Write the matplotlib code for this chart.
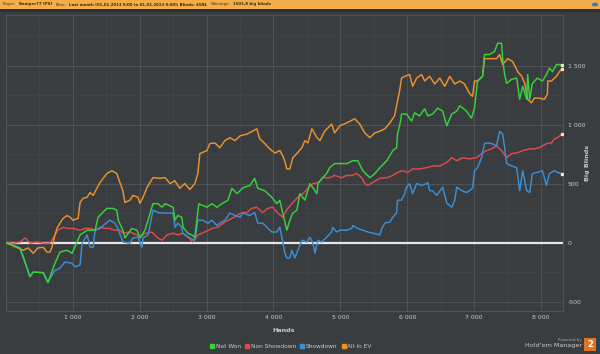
import numpy as np
import matplotlib.pyplot as plt
from matplotlib.patches import Rectangle, Circle
from matplotlib.lines import Line2D

# hands played / big blinds
net_won_x = [0, 210, 260, 360, 410, 560, 630, 735, 810, 915, 990, 1110, 1215, 1335, 1380, 1510, 1600, 1660,
             1680, 1750, 1780, 1885, 1960, 2005, 2080, 2200, 2275, 2335, 2380, 2500, 2530, 2570, 2630, 2650,
             2720, 2780, 2825, 2885, 3005, 3080, 3155, 3230, 3320, 3380, 3455, 3545, 3650, 3720, 3765, 3870,
             3975, 4050, 4095, 4140, 4200, 4245, 4290, 4350, 4395, 4470, 4545, 4590, 4650, 4665, 4735, 4795,
             4840, 4915, 4990, 5095, 5185, 5260, 5335, 5440, 5515, 5590, 5695, 5785, 5840, 5855, 5900, 5915,
             5990, 6065, 6110, 6185, 6260, 6305, 6380, 6455, 6530, 6590, 6665, 6740, 6785, 6885, 6960, 7005,
             7050, 7125, 7155, 7230, 7305, 7350, 7410, 7425, 7455, 7485, 7560, 7635, 7680, 7725, 7785, 7800,
             7830, 7870, 7945, 8020, 8080, 8125, 8170, 8230, 8275, 8310]
net_won_y = [0, -45, -120, -290, -250, -255, -340, -175, -80, -65, -90, 65, 105, 105, 215, 290, 290, 275,
             190, 105, 40, 120, 105, 40, 105, 330, 330, 300, 330, 300, 190, 230, 215, 130,
             80, 65, 45, 330, 300, 330, 300, 330, 360, 460, 415, 465, 485, 545, 460, 440,
             385, 330, 358, 248, 105, 190, 250, 275, 415, 360, 500, 465, 415, 500, 550, 585,
             635, 670, 670, 670, 695, 695, 610, 550, 585, 635, 695, 780, 805, 920, 1030, 1090,
             1090, 1030, 1100, 1075, 1135, 1075, 1090, 1140, 1115, 990, 1090, 1115, 1160, 1115, 1055, 1140,
             1370, 1410, 1595, 1595, 1620, 1690, 1690, 1560, 1425, 1350, 1385, 1395, 1215, 1325, 1215, 1425,
             1215, 1350, 1395, 1370, 1425, 1480, 1450, 1510, 1510, 1504]

non_sd_x = [0, 110, 215, 290, 365, 465, 555, 660, 735, 780, 855, 930, 1005, 1110, 1185, 1260, 1335, 1410,
            1485, 1555, 1630, 1705, 1750, 1855, 1960, 2005, 2080, 2110, 2185, 2260, 2335, 2410, 2500, 2570,
            2645, 2720, 2795, 2870, 2975, 3080, 3170, 3275, 3380, 3455, 3530, 3605, 3675, 3750, 3840, 3915,
            3990, 4065, 4140, 4170, 4215, 4290, 4365, 4440, 4515, 4590, 4665, 4735, 4840, 4915, 5020, 5095,
            5170, 5245, 5320, 5365, 5410, 5485, 5590, 5695, 5785, 5855, 5930, 6005, 6080, 6185, 6290, 6380,
            6485, 6590, 6665, 6740, 6830, 6930, 7035, 7110, 7185, 7260, 7335, 7410, 7485, 7560, 7635, 7725,
            7830, 7900, 7975, 8080, 8155, 8200, 8245, 8310]
non_sd_y = [0, -5, 5, 40, -5, 5, -5, -5, 65, 105, 130, 120, 120, 105, 120, 120, 105, 130,
            120, 120, 105, 105, 80, 90, 65, 45, 80, 80, 90, 45, 20, 65, 80, 65,
            80, 45, 5, 65, 90, 120, 130, 175, 205, 230, 255, 255, 290, 300, 255, 290,
            300, 250, 215, 250, 290, 340, 385, 415, 460, 500, 510, 550, 550, 570, 550, 570,
            570, 585, 550, 500, 485, 510, 545, 550, 570, 595, 610, 595, 625, 625, 635, 650,
            650, 680, 720, 695, 720, 710, 720, 755, 780, 795, 820, 780, 720, 755, 760, 780,
            795, 795, 805, 840, 845, 880, 890, 920]

sd_x = [0, 210, 260, 360, 410, 560, 630, 735, 765, 810, 885, 990, 1035, 1110, 1140, 1215, 1260, 1305,
        1335, 1410, 1455, 1555, 1630, 1675, 1750, 1855, 1900, 1975, 2035, 2050, 2125, 2155, 2200, 2275,
        2350, 2425, 2500, 2530, 2570, 2630, 2645, 2750, 2825, 2870, 2945, 3020, 3080, 3155, 3200, 3275,
        3350, 3425, 3500, 3545, 3645, 3720, 3765, 3840, 3900, 3975, 4050, 4095, 4140, 4170, 4200, 4245,
        4275, 4320, 4365, 4425, 4500, 4545, 4590, 4620, 4665, 4720, 4795, 4870, 4885, 4945, 4990, 5095,
        5170, 5185, 5260, 5335, 5410, 5485, 5590, 5620, 5665, 5740, 5785, 5840, 5855, 5915, 5960, 5990,
        6035, 6080, 6140, 6215, 6290, 6305, 6335, 6380, 6440, 6530, 6590, 6665, 6710, 6740, 6815, 6885,
        6930, 6975, 7005, 7050, 7110, 7155, 7200, 7260, 7335, 7380, 7425, 7455, 7485, 7560, 7635, 7680,
        7725, 7785, 7830, 7870, 7945, 8020, 8080, 8125, 8200, 8245, 8310]
sd_y = [0, -45, -125, -285, -250, -255, -335, -235, -230, -215, -165, -175, -205, -190, -5, 65, -40, -40,
        105, 120, 145, 190, 165, 120, 5, -5, 40, 45, -40, 40, 65, 145, 275, 255,
        250, 250, 250, 130, 165, 130, 80, 40, 20, 190, 190, 165, 190, 145, 165, 190,
        250, 230, 215, 250, 230, 255, 165, 165, 130, 90, 90, 130, 5, -90, -130, -130,
        -65, -130, -65, 20, 5, 45, -5, -90, 20, 5, 45, 90, 130, 90, 105, 105,
        120, 145, 120, 105, 90, 80, 65, 120, 165, 175, 215, 250, 360, 360, 415, 470,
        500, 415, 500, 485, 500, 510, 440, 440, 400, 470, 335, 300, 360, 470, 440, 425,
        440, 460, 610, 635, 720, 840, 845, 840, 820, 945, 920, 805, 670, 650, 635, 440,
        610, 440, 425, 585, 595, 610, 485, 585, 610, 595, 585]

ev_x = [0, 260, 335, 410, 480, 560, 615, 660, 690, 735, 765, 810, 855, 915, 960, 1005, 1080, 1110,
        1155, 1215, 1260, 1305, 1365, 1410, 1455, 1510, 1585, 1660, 1705, 1750, 1780, 1855, 1900, 1975,
        2005, 2050, 2110, 2200, 2305, 2380, 2455, 2525, 2600, 2675, 2750, 2825, 2870, 2900, 3005, 3050,
        3125, 3200, 3275, 3350, 3425, 3500, 3605, 3690, 3750, 3795, 3870, 3945, 4020, 4095, 4140, 4170,
        4200, 4245, 4290, 4350, 4425, 4470, 4515, 4575, 4650, 4695, 4765, 4870, 4915, 4990, 5095, 5215,
        5290, 5365, 5440, 5515, 5590, 5665, 5740, 5810, 5855, 5885, 5915, 5960, 6035, 6080, 6140, 6215,
        6260, 6335, 6410, 6485, 6560, 6635, 6710, 6785, 6855, 6930, 6975, 7005, 7050, 7125, 7155, 7335,
        7380, 7425, 7500, 7575, 7650, 7710, 7755, 7800, 7855, 7900, 7975, 8050, 8095, 8100, 8155, 8230,
        8275, 8310]
ev_y = [0, -65, -45, -90, -45, -40, -80, -80, -40, 65, 120, 165, 205, 230, 215, 190, 205, 340,
        375, 385, 425, 400, 465, 510, 545, 585, 610, 585, 510, 440, 340, 360, 400, 385,
        333, 383, 467, 551, 545, 551, 500, 525, 460, 500, 450, 500, 585, 755, 780, 840,
        845, 805, 865, 890, 865, 905, 920, 945, 965, 880, 840, 795, 760, 780, 735, 690,
        625, 625, 720, 755, 805, 865, 845, 965, 890, 865, 945, 1005, 930, 990, 1015, 1050,
        1005, 930, 890, 930, 945, 965, 1015, 1075, 1200, 1285, 1395, 1410, 1425, 1325, 1395, 1425,
        1370, 1410, 1345, 1395, 1325, 1410, 1345, 1370, 1345, 1265, 1240, 1370, 1370, 1410, 1560, 1560,
        1595, 1510, 1560, 1535, 1450, 1410, 1350, 1215, 1185, 1225, 1225, 1215, 1260, 1370, 1370, 1410,
        1450, 1470]

x_ticks = [1000, 2000, 3000, 4000, 5000, 6000, 7000, 8000]
y_ticks = [-500, 0, 500, 1000, 1500]
names = ["Net Won", "Non Showdown", "Showdown", "All-In EV"]
colors = ["#35d43a", "#e04a4a", "#3a8fd4", "#ee922e"]

bg = "#3a3d40"
txt = "#c9cacb"

fig = plt.figure(figsize=(6, 3.54), dpi=100)
fig.patch.set_facecolor(bg)

# top bar
fig.patches.append(Rectangle((0, 1 - 9 / 354), 1, 9 / 354, transform=fig.transFigure,
                             facecolor="#f3ae4a", edgecolor="none"))
fig.patches.append(Rectangle((0, 1 - 12 / 354), 1, 3 / 354, transform=fig.transFigure,
                             facecolor="#2e3133", edgecolor="none"))
hy = 1 - 4.5 / 354
hdr = [("Player:", "normal"), ("Bamper77 [PS]", "bold"), ("Filter:", "normal"),
       ("Last month [01.01.2013 0:00 to 01.02.2013 0:00]; Blinds: $5NL", "bold"),
       ("Winnings:", "normal"), ("1503,8 big blinds", "bold")]
hfam = ["Liberation Sans Narrow", "DejaVu Sans"]
rend = fig.canvas.get_renderer()
# shrink the header text so it spans roughly 3..273 px like the original
probe = [fig.text(0, 0, s, fontsize=4, fontweight=w, family=hfam) for s, w in hdr]
total = sum(t.get_window_extent(rend).width for t in probe)
for t in probe:
    t.remove()
hsize = min(5.0, 4 * (270 - 3 * len(hdr)) / total)
px = 3
for s, w in hdr:
    t = fig.text(px / 600, hy, s, fontsize=hsize, color="#3b2a12", fontweight=w, family=hfam,
                 va="center", ha="left")
    px += t.get_window_extent(rend).width + 3
fig.patches.append(Circle((595 / 600, hy), 3.2 / 600, transform=fig.transFigure,
                          facecolor="#2b7fd0", edgecolor="none"))

ax = fig.add_axes([5.8 / 600, 1 - 311 / 354, 556.7 / 600, 296 / 354])
ax.set_facecolor(bg)
ax.set_xlim(0, 8320)
ax.set_ylim(-580, 1930)

ax.set_xticks(np.arange(0, 8400, 500), minor=True)
ax.set_yticks(np.arange(-500, 1901, 250), minor=True)
ax.set_xticks(x_ticks)
ax.set_yticks(y_ticks)
ax.set_xticklabels([f"{v:,}".replace(",", " ") for v in x_ticks])
ax.set_yticklabels([f"{v:,}".replace(",", " ") for v in y_ticks])
ax.grid(True, which="major", color="#4e5155", linewidth=0.8)
ax.grid(True, which="minor", color="#424548", linewidth=0.6)
ax.set_axisbelow(True)
ax.yaxis.tick_right()
ax.tick_params(axis="both", which="both", length=0, labelsize=4.4, labelcolor=txt)
ax.tick_params(axis="x", pad=3)
ax.tick_params(axis="y", pad=4)
for sp in ax.spines.values():
    sp.set_color("#4e5155")
    sp.set_linewidth(0.8)

ax.axhline(0, color="#e6e6e6", linewidth=1.6, zorder=2)

series = [(net_won_x, net_won_y), (non_sd_x, non_sd_y), (sd_x, sd_y), (ev_x, ev_y)]
zs = [5, 3, 3, 4]
for i in [3, 1, 2, 0]:
    xs, ys = series[i]
    ax.plot(xs, ys, color=colors[i], linewidth=1.05, zorder=zs[i])
    ax.plot(xs[-1:], ys[-1:], marker="s", markersize=1.8, color="#f3e2c0", linestyle="none", zorder=6)

fig.text(284 / 600, 1 - 331 / 354, "Hands", fontsize=4.6, color=txt, fontweight="bold",
         ha="center", va="center")
fig.text(588 / 600, 1 - 163 / 354, "Big Blinds", fontsize=4.6, color=txt, fontweight="bold",
         ha="center", va="center", rotation=90)

handles = [Line2D([], [], marker="s", linestyle="none", markersize=2.6, color=c) for c in colors]
fig.legend(handles, names, loc="center", bbox_to_anchor=(291 / 600, 1 - 346 / 354), ncol=4,
           frameon=False, fontsize=4.2, labelcolor=txt, handlelength=0.6, handletextpad=0.3,
           columnspacing=0.8, borderpad=0)

fig.text(582 / 600, 1 - 340 / 354, "Powered by", fontsize=3, color="#a8a9aa", ha="right", va="center")
fig.text(582 / 600, 1 - 346 / 354, "Hold'em Manager", fontsize=4.6, color=txt, ha="right", va="center")
fig.patches.append(Rectangle((584 / 600, 1 - 351 / 354), 12 / 600, 13 / 354, transform=fig.transFigure,
                             facecolor="#e0731f", edgecolor="none"))
fig.text(590 / 600, 1 - 344.5 / 354, "2", fontsize=6, color="white", fontweight="bold",
         ha="center", va="center")

fig.savefig("out.png", dpi=100, facecolor=bg)
